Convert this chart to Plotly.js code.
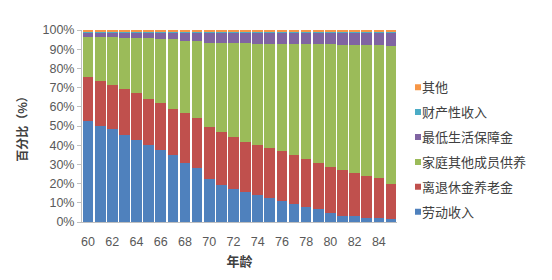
<!DOCTYPE html>
<html><head><meta charset="utf-8">
<script src="https://cdn.plot.ly/plotly-3.0.1.min.js"></script>
<style>html,body{margin:0;padding:0;background:#fff}#c{width:552px;height:280px}</style>
</head><body><div id="c"></div>
<script>
const ages = [60,61,62,63,64,65,66,67,68,69,70,71,72,73,74,75,76,77,78,79,80,81,82,83,84,85];
const labour = [52.6,50.0,48.3,45.3,42.7,39.9,37.5,34.7,30.9,28.1,22.4,19.3,17.4,15.8,14.1,12.3,10.9,9.5,8.0,6.8,4.5,3.3,3.1,2.3,2.1,1.7];
const pension = [23.1,23.4,22.9,23.8,24.3,24.1,24.7,24.3,25.7,25.9,26.9,27.4,26.7,26.0,26.0,26.1,26.1,25.4,24.6,24.1,24.0,23.6,22.2,21.7,21.0,17.9];
const family = [20.8,23.1,25.0,26.9,28.7,31.7,33.1,36.1,37.8,40.1,44.1,46.7,49.0,51.3,52.8,54.3,55.7,57.8,60.1,61.6,64.0,65.5,67.1,68.2,69.1,72.2];
const dibao = [2.0,2.0,2.3,2.5,2.8,2.8,3.2,3.4,4.1,4.4,5.1,5.1,5.4,5.4,5.6,5.8,5.8,5.8,5.8,6.0,6.0,6.1,6.1,6.3,6.3,6.7];
const property = [0.3,0.3,0.3,0.3,0.3,0.3,0.3,0.3,0.3,0.3,0.3,0.3,0.3,0.3,0.3,0.3,0.3,0.3,0.3,0.3,0.3,0.3,0.3,0.3,0.3,0.3];
const other = [1.2,1.2,1.2,1.2,1.2,1.2,1.2,1.2,1.2,1.2,1.2,1.2,1.2,1.2,1.2,1.2,1.2,1.2,1.2,1.2,1.2,1.2,1.2,1.2,1.2,1.2];
const names = ['劳动收入','离退休金养老金','家庭其他成员供养','最低生活保障金','财产性收入','其他'];
const colors = ['#4F81BD','#C0504D','#9BBB59','#8064A2','#4BACC6','#F79646'];
const series = [labour, pension, family, dibao, property, other];
const font = '"Liberation Sans", "Noto Sans CJK SC", sans-serif';
const traces = series.map((s,i)=>({
  type:'bar', x:ages, y:s, name:names[i], legendgroup:'g'+i, legendrank:(series.length-i)*100,
  marker:{color:colors[i], line:{width:0}}, hoverinfo:'none'
}));
const layout = {
  width:552, height:280, barmode:'stack', barnorm:'percent', bargap:0.12,
  margin:{l:82, r:155, t:30, b:58},
  paper_bgcolor:'#fff', plot_bgcolor:'#fff',
  font:{family:font, size:12.5, color:'#595959'},
  showlegend:true,
  legend:{x:(382-82)/315, xanchor:'left', y:0.78, yanchor:'top', traceorder:'grouped', tracegroupgap:5,
    bgcolor:'rgba(0,0,0,0)',
    font:{family:'"Noto Sans CJK SC", sans-serif', size:13, color:'#404040'}, itemwidth:30},
  xaxis:{range:[59.5,85.5], tickmode:'linear', tick0:60, dtick:2, showgrid:false, zeroline:false,
    showline:true, linecolor:'#BFBFBF', ticks:'outside', ticklen:8, tickcolor:'rgba(0,0,0,0)',
    tickfont:{size:12.5, color:'#595959'},
    title:{text:'年龄', font:{family:'"Noto Sans CJK SC", serif', size:13, color:'#404040', weight:'bold'}, standoff:8}},
  yaxis:{range:[0,100], tickmode:'linear', tick0:0, dtick:10, ticksuffix:'%', showgrid:false, zeroline:false,
    showline:true, linecolor:'#BFBFBF', ticks:'outside', ticklen:4, tickcolor:'#BFBFBF',
    tickfont:{size:12.5, color:'#595959'},
    title:{text:'百分比（%）', font:{family:'"Noto Sans CJK SC", serif', size:12, color:'#404040', weight:'bold'}, standoff:12}}
};
Plotly.newPlot('c', traces, layout, {displayModeBar:false, staticPlot:true}).then(gd=>{
  gd.querySelectorAll('.legend .legendpoints path').forEach(p=>{
    const t = p.getAttribute('transform') || '';
    p.setAttribute('transform', t + ' translate(16,0) scale(0.5)');
  });
});
</script></body></html>
